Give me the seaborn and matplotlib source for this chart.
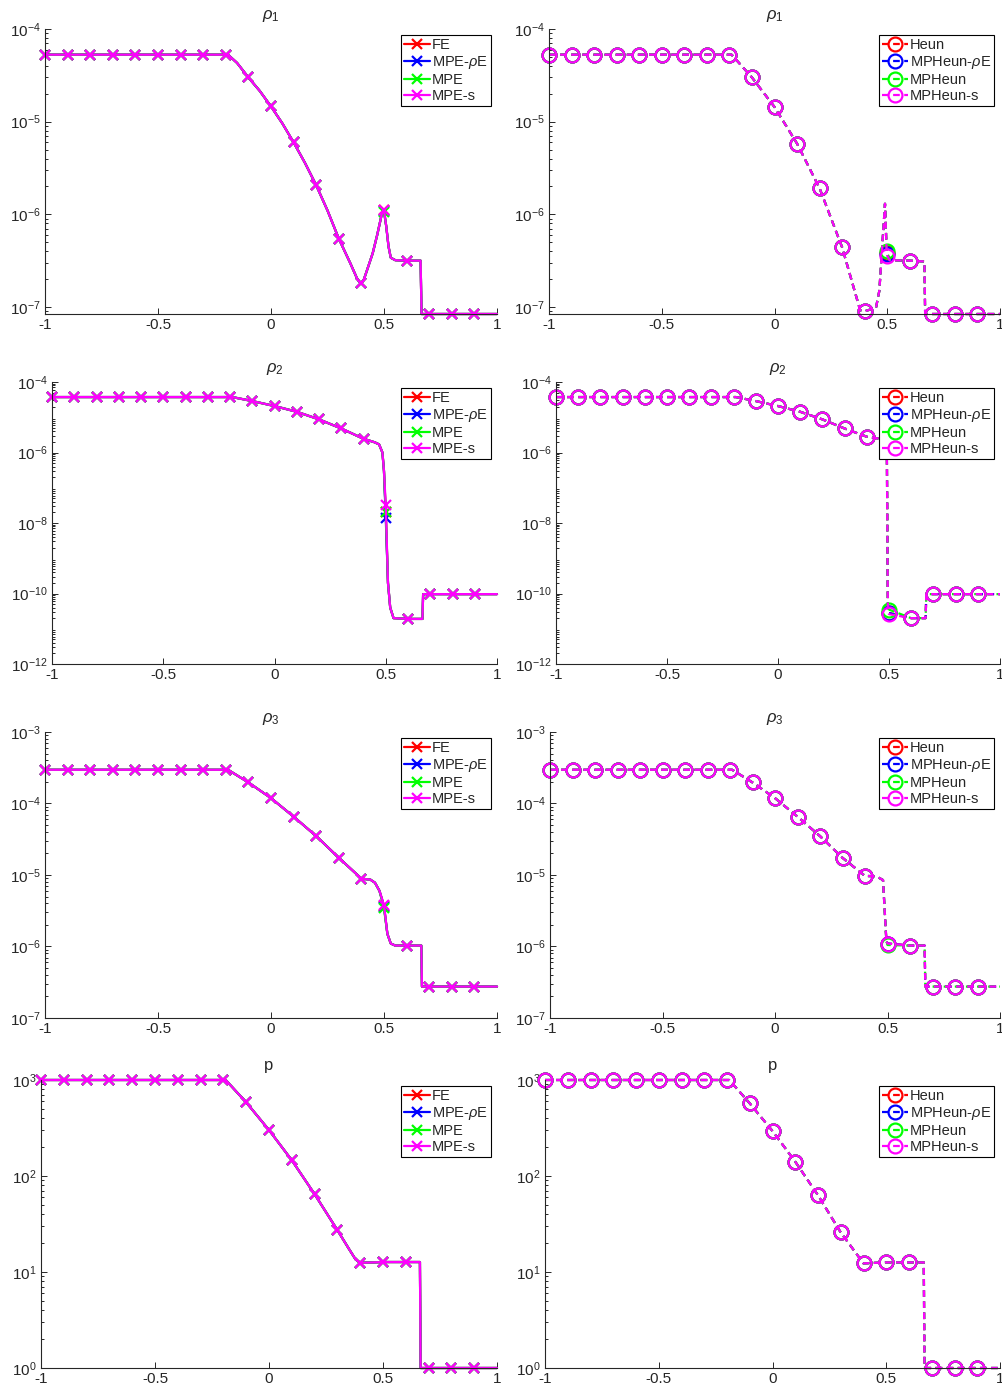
import numpy as np
import matplotlib
matplotlib.use('Agg')
import matplotlib.pyplot as plt
import seaborn as sns
import pandas as pd
from matplotlib.ticker import FixedLocator, LogLocator, NullFormatter, LogFormatterMathtext

# x positions of the markers (same for every panel)
marker_x = [-1.0, -0.9, -0.8, -0.7, -0.6, -0.5, -0.4, -0.3, -0.2, -0.1,
            0.0, 0.1, 0.2, 0.3, 0.4, 0.5, 0.6, 0.7, 0.8, 0.9]

left_methods = ['FE', 'MPE-$\\rho$E', 'MPE', 'MPE-s']
right_methods = ['Heun', 'MPHeun-$\\rho$E', 'MPHeun', 'MPHeun-s']
method_colors = ['#ff0000', '#0000ff', '#00ff00', '#ff00ff']

# ---- rho_1 ----
rho1_left_marks = [5.28e-5, 5.28e-5, 5.28e-5, 5.28e-5, 5.28e-5, 5.28e-5, 5.28e-5, 5.28e-5, 5.28e-5, 3.0e-5,
                   1.46e-5, 5.98e-6, 2.06e-6, 5.46e-7, 1.82e-7, 1.12e-6, 3.16e-7, 8.4e-8, 8.4e-8, 8.4e-8]
rho1_left_half = [1.10e-6, 1.08e-6, 1.05e-6, 1.12e-6]
rho1_left_ex_x = [-0.19, -0.15, -0.05, 0.05, 0.15, 0.25, 0.35, 0.38, 0.39, 0.41, 0.42, 0.45, 0.47, 0.49,
                  0.51, 0.52, 0.53, 0.55, 0.662, 0.666, 1.0]
rho1_left_ex_y = [5.28e-5, 4.3e-5, 2.15e-5, 9.6e-6, 3.6e-6, 1.1e-6, 3.0e-7, 2.05e-7, 1.88e-7, 1.95e-7, 2.3e-7,
                  3.8e-7, 6.0e-7, 1.0e-6, 7.4e-7, 4.5e-7, 3.4e-7, 3.2e-7, 3.16e-7, 8.4e-8, 8.4e-8]

rho1_right_marks = [5.28e-5, 5.28e-5, 5.28e-5, 5.28e-5, 5.28e-5, 5.28e-5, 5.28e-5, 5.28e-5, 5.28e-5, 3.0e-5,
                    1.44e-5, 5.8e-6, 1.91e-6, 4.4e-7, 9.0e-8, 3.58e-7, 3.16e-7, 8.4e-8, 8.4e-8, 8.4e-8]
rho1_right_half = [3.8e-7, 3.7e-7, 4.0e-7, 3.58e-7]
rho1_right_ex_x = [-0.19, 0.38, 0.45, 0.465, 0.49, 0.497, 0.51, 0.665, 0.668, 1.0]
rho1_right_ex_y = [5.28e-5, 9.2e-8, 9.8e-8, 1.5e-7, 1.3e-6, 4.2e-7, 3.2e-7, 3.1e-7, 8.4e-8, 8.4e-8]

# ---- rho_2 ----
rho2_left_marks = [3.74e-5, 3.74e-5, 3.74e-5, 3.74e-5, 3.74e-5, 3.74e-5, 3.74e-5, 3.74e-5, 3.74e-5, 2.88e-5,
                   2.08e-5, 1.43e-5, 8.7e-6, 4.8e-6, 2.45e-6, 3.3e-8, 1.9e-11, 9.6e-11, 9.6e-11, 9.6e-11]
rho2_left_half = [2.0e-8, 1.4e-8, 2.0e-8, 3.3e-8]
rho2_left_ex_x = [-0.19, 0.45, 0.47, 0.485, 0.492, 0.51, 0.52, 0.535, 0.665, 0.668, 1.0]
rho2_left_ex_y = [3.74e-5, 1.95e-6, 1.7e-6, 1.0e-6, 3.0e-7, 2.0e-10, 4.0e-11, 2.0e-11, 1.9e-11, 9.6e-11, 9.6e-11]

rho2_right_marks = [3.74e-5, 3.74e-5, 3.74e-5, 3.74e-5, 3.74e-5, 3.74e-5, 3.74e-5, 3.74e-5, 3.74e-5, 2.88e-5,
                    2.08e-5, 1.43e-5, 8.7e-6, 4.8e-6, 2.8e-6, 2.6e-11, 2.0e-11, 9.6e-11, 9.6e-11, 9.6e-11]
rho2_right_half = [2.8e-11, 2.8e-11, 3.5e-11, 2.6e-11]
rho2_right_ex_x = [-0.19, 0.49, 0.495, 0.665, 0.668, 1.0]
rho2_right_ex_y = [3.74e-5, 2.3e-6, 3.0e-11, 2.0e-11, 9.6e-11, 9.6e-11]

# ---- rho_3 ----
rho3_left_marks = [2.96e-4, 2.96e-4, 2.96e-4, 2.96e-4, 2.96e-4, 2.96e-4, 2.96e-4, 2.96e-4, 2.96e-4, 1.97e-4,
                   1.19e-4, 6.55e-5, 3.5e-5, 1.74e-5, 8.9e-6, 3.8e-6, 1.03e-6, 2.75e-7, 2.75e-7, 2.75e-7]
rho3_left_half = [3.7e-6, 3.6e-6, 3.4e-6, 3.8e-6]
rho3_left_ex_x = [-0.19, 0.44, 0.46, 0.48, 0.515, 0.53, 0.55, 0.665, 0.668, 1.0]
rho3_left_ex_y = [2.96e-4, 8.6e-6, 7.8e-6, 6.0e-6, 1.5e-6, 1.1e-6, 1.03e-6, 1.03e-6, 2.75e-7, 2.75e-7]

rho3_right_marks = [2.96e-4, 2.96e-4, 2.96e-4, 2.96e-4, 2.96e-4, 2.96e-4, 2.96e-4, 2.96e-4, 2.96e-4, 1.97e-4,
                    1.19e-4, 6.55e-5, 3.5e-5, 1.74e-5, 9.7e-6, 1.1e-6, 1.03e-6, 2.75e-7, 2.75e-7, 2.75e-7]
rho3_right_half = [1.1e-6, 1.1e-6, 1.05e-6, 1.1e-6]
rho3_right_ex_x = [-0.19, 0.45, 0.48, 0.495, 0.665, 0.668, 1.0]
rho3_right_ex_y = [2.96e-4, 9.6e-6, 8.5e-6, 1.2e-6, 1.03e-6, 2.75e-7, 2.75e-7]

# ---- p ----
p_left_marks = [1000, 1000, 1000, 1000, 1000, 1000, 1000, 1000, 1000, 585,
                301, 146, 64.7, 27.3, 12.45, 12.7, 12.7, 1.0, 1.0, 1.0]
p_left_half = [12.7, 12.7, 12.7, 12.7]
p_left_ex_x = [-0.19, 0.35, 0.38, 0.662, 0.665, 1.0]
p_left_ex_y = [1000, 17.5, 13.5, 12.7, 1.0, 1.0]

p_right_marks = [1000, 1000, 1000, 1000, 1000, 1000, 1000, 1000, 1000, 571,
                 294, 141, 63, 25.8, 12.3, 12.6, 12.6, 1.0, 1.0, 1.0]
p_right_half = [12.6, 12.6, 12.6, 12.6]
p_right_ex_x = [-0.19, 0.665, 0.668, 1.0]
p_right_ex_y = [1000, 12.6, 1.0, 1.0]

titles = ['$\\rho_1$', '$\\rho_2$', '$\\rho_3$', 'p']
ylims = [(8.4e-8, 1e-4), (1e-12, 1e-4), (1e-7, 1e-3), (1, 1000)]
yticks = [[1e-7, 1e-6, 1e-5, 1e-4],
          [1e-12, 1e-10, 1e-8, 1e-6, 1e-4],
          [1e-7, 1e-6, 1e-5, 1e-4, 1e-3],
          [1, 10, 100, 1000]]

panels = [
    [(rho1_left_marks, rho1_left_half, rho1_left_ex_x, rho1_left_ex_y),
     (rho1_right_marks, rho1_right_half, rho1_right_ex_x, rho1_right_ex_y)],
    [(rho2_left_marks, rho2_left_half, rho2_left_ex_x, rho2_left_ex_y),
     (rho2_right_marks, rho2_right_half, rho2_right_ex_x, rho2_right_ex_y)],
    [(rho3_left_marks, rho3_left_half, rho3_left_ex_x, rho3_left_ex_y),
     (rho3_right_marks, rho3_right_half, rho3_right_ex_x, rho3_right_ex_y)],
    [(p_left_marks, p_left_half, p_left_ex_x, p_left_ex_y),
     (p_right_marks, p_right_half, p_right_ex_x, p_right_ex_y)],
]

sns.set_style('ticks')
plt.rcParams['font.family'] = ['Liberation Sans', 'DejaVu Sans']
plt.rcParams['mathtext.fontset'] = 'custom'
plt.rcParams['mathtext.rm'] = 'Liberation Sans'
plt.rcParams['mathtext.it'] = 'Liberation Sans:italic'
plt.rcParams['axes.unicode_minus'] = False

W, H = 1002, 1394
fig = plt.figure(figsize=(W / 100, H / 100), dpi=100)

# axes boxes in pixels (top, bottom) per row and left edge per column
rows_px = [(29, 314), (382, 664), (732, 1018), (1080, 1368)]
lefts_px = [(45, 549), (52, 556), (45, 550), (41, 545)]
rights_px = (497, 1000)


def make_frame(marks, half, ex_x, ex_y, k):
    y = list(marks)
    y[15] = half[k]
    df = pd.DataFrame({'x': marker_x + ex_x,
                       'y': y + ex_y,
                       'mark': [True] * len(marker_x) + [False] * len(ex_x)})
    df = df.sort_values('x', kind='stable').reset_index(drop=True)
    return df


for r in range(4):
    top, bot = rows_px[r]
    for c in range(2):
        left = lefts_px[r][c]
        right = rights_px[c]
        ax = fig.add_axes([left / W, 1 - bot / H, (right - left) / W, (bot - top) / H])
        ax.set_yscale('log')
        marks, half, ex_x, ex_y = panels[r][c]
        names = left_methods if c == 0 else right_methods
        for k in range(4):
            df = make_frame(marks, half, ex_x, ex_y, k)
            idx = list(df.index[df['mark']])
            col = method_colors[k]
            if c == 0:
                sns.lineplot(data=df, x='x', y='y', ax=ax, color=col,
                             estimator=None, sort=False, lw=1.6, linestyle='-',
                             marker='x', ms=7.5, mew=1.6, mec=col, mfc=col,
                             markevery=idx, label=names[k], clip_on=False)
            else:
                sns.lineplot(data=df, x='x', y='y', ax=ax, color=col,
                             estimator=None, sort=False, lw=1.6, linestyle=(0, (3, 2)),
                             marker='o', ms=10, mew=1.6, mfc='none', mec=col,
                             markevery=idx, label=names[k], clip_on=False)

        ax.set_xlim(-1, 1)
        ax.set_ylim(*ylims[r])
        ax.set_xlabel('')
        ax.set_ylabel('')
        ax.xaxis.set_major_locator(FixedLocator([-1, -0.5, 0, 0.5, 1]))
        ax.set_xticklabels(['-1', '-0.5', '0', '0.5', '1'])
        ax.yaxis.set_major_locator(FixedLocator(yticks[r]))
        ax.yaxis.set_major_formatter(LogFormatterMathtext())
        ax.yaxis.set_minor_locator(LogLocator(base=10, subs=np.arange(2, 10), numticks=200))
        ax.yaxis.set_minor_formatter(NullFormatter())
        ax.tick_params(which='both', direction='in', colors='0.15', width=0.7, labelsize=11)
        ax.tick_params(which='major', length=4.5, pad=3)
        ax.tick_params(which='minor', length=2.5)
        for s in ['top', 'right']:
            ax.spines[s].set_visible(False)
        for s in ['left', 'bottom']:
            ax.spines[s].set_color('0.15')
            ax.spines[s].set_linewidth(0.8)
        ax.set_title(titles[r], fontsize=12, color='0.15', pad=7)
        leg = ax.legend(loc='upper right', bbox_to_anchor=(1, 1), fontsize=10.5,
                        fancybox=False, framealpha=1, edgecolor='black',
                        borderaxespad=0.4, borderpad=0.2, labelspacing=0.15,
                        handlelength=1.8, handletextpad=0.15)
        leg.get_frame().set_linewidth(0.8)

fig.savefig('out.png', dpi=100)
